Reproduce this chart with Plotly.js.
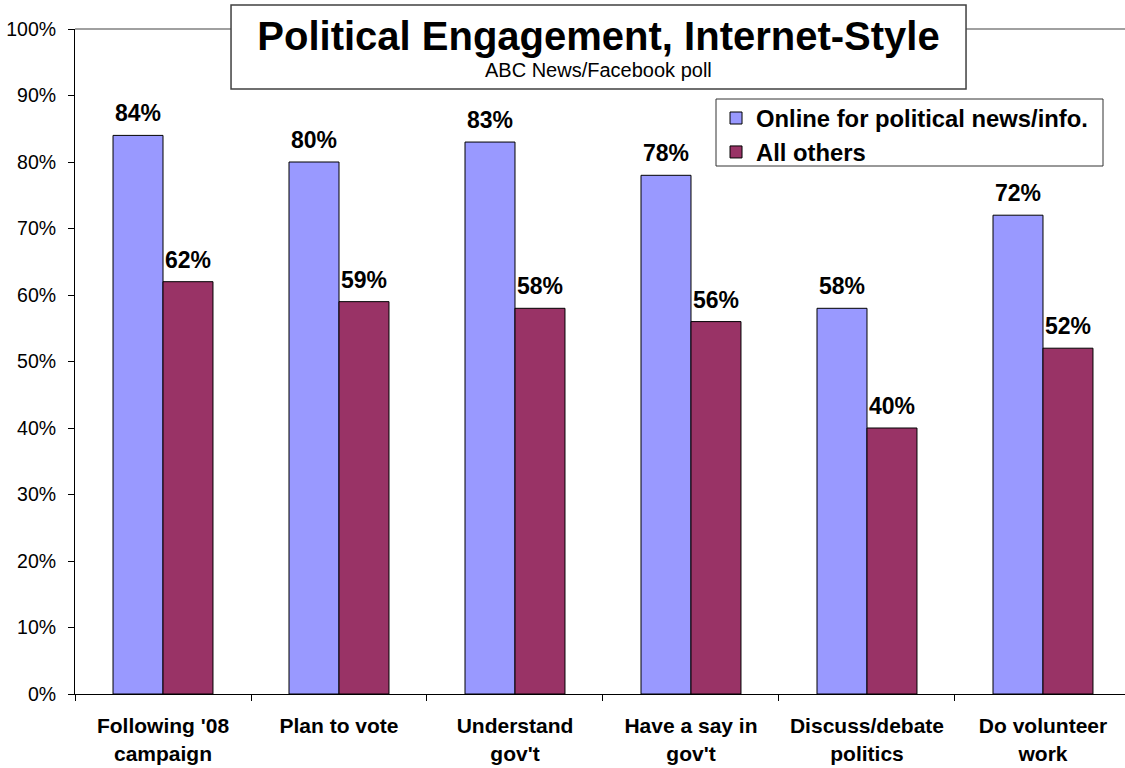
<!DOCTYPE html>
<html>
<head>
<meta charset="utf-8">
<script src="https://cdn.plot.ly/plotly-3.0.1.min.js"></script>
<style>
  html, body { margin: 0; padding: 0; background: #ffffff; }
  #chart { width: 1125px; height: 768px; }
</style>
</head>
<body>
<div id="chart"></div>
<script>
const categories = ["Following '08<br>campaign", "Plan to vote", "Understand<br>gov't", "Have a say in<br>gov't", "Discuss/debate<br>politics", "Do volunteer<br>work"];
const seriesNames = ["Online for political news/info.", "All others"];
const onlineValues = [84, 80, 83, 78, 58, 72];
const otherValues = [62, 59, 58, 56, 40, 52];
const yTickValues = [0, 10, 20, 30, 40, 50, 60, 70, 80, 90, 100];
const yTickLabels = ["0%", "10%", "20%", "30%", "40%", "50%", "60%", "70%", "80%", "90%", "100%"];
const chartTitle = "Political Engagement, Internet-Style";
const chartSubtitle = "ABC News/Facebook poll";

const FONT = "'Liberation Sans', Arial, Helvetica, sans-serif";

const traces = [
  {
    type: 'bar', name: seriesNames[0], x: categories, y: onlineValues,
    marker: { color: '#9999FF', line: { color: '#000000', width: 1 } },
    hoverinfo: 'none'
  },
  {
    type: 'bar', name: seriesNames[1], x: categories, y: otherValues,
    marker: { color: '#993366', line: { color: '#000000', width: 1 } },
    hoverinfo: 'none'
  }
];

const annotations = [];
categories.forEach((c, i) => {
  annotations.push({ x: c, y: onlineValues[i], xref: 'x', yref: 'y', text: '<b>' + onlineValues[i] + '%</b>',
    showarrow: false, xshift: -25, yshift: 22, yanchor: 'middle', font: { family: FONT, size: 23, color: '#000' } });
  annotations.push({ x: c, y: otherValues[i], xref: 'x', yref: 'y', text: '<b>' + otherValues[i] + '%</b>',
    showarrow: false, xshift: 25, yshift: 22, yanchor: 'middle', font: { family: FONT, size: 23, color: '#000' } });
});
annotations.push({ x: 0.4986, y: 0.9383, xref: 'paper', yref: 'paper', text: chartSubtitle, showarrow: false,
  xanchor: 'center', yanchor: 'middle', font: { family: FONT, size: 20, color: '#000' } });

const layout = {
  width: 1125, height: 768,
  margin: { l: 75, r: 0, t: 29, b: 74, pad: 0 },
  paper_bgcolor: '#ffffff', plot_bgcolor: '#ffffff',
  font: { family: FONT, color: '#000' },
  title: { text: '<b>' + chartTitle + '</b>', font: { family: FONT, size: 40, color: '#000' },
    xref: 'paper', x: 0.4986, xanchor: 'center', yref: 'container', y: 1 - 36 / 768, yanchor: 'middle' },
  barmode: 'group', bargap: 0.432, bargroupgap: 0,
  showlegend: true,
  legend: {
    x: 0.6105, y: 0.8992, xanchor: 'left', yanchor: 'top',
    bgcolor: 'rgba(0,0,0,0)', borderwidth: 0,
    font: { family: FONT, size: 23.8, color: '#000', weight: 'bold' },
    traceorder: 'normal'
  },
  xaxis: {
    type: 'category', range: [-0.5, 5.466], fixedrange: true,
    showline: true, linecolor: '#000', linewidth: 1,
    ticks: 'outside', tickson: 'boundaries', ticklen: 6, tickcolor: '#000', tickwidth: 1,
    tickfont: { family: FONT, size: 21, color: '#000', weight: 'bold' },
    ticklabelstandoff: 13,
    showgrid: false, zeroline: false
  },
  yaxis: {
    range: [0, 100], fixedrange: true,
    tickvals: yTickValues, ticktext: yTickLabels,
    showline: true, linecolor: '#000', linewidth: 1,
    ticks: 'outside', ticklen: 6, tickcolor: '#000', tickwidth: 1,
    tickfont: { family: FONT, size: 19.5, color: '#000' },
    ticklabelstandoff: 8,
    showgrid: false, zeroline: false
  },
  shapes: [
    { type: 'line', xref: 'paper', yref: 'paper', x0: 0, x1: 1, y0: 1, y1: 1, line: { color: '#808080', width: 1.5 }, layer: 'above' },
    { type: 'rect', xref: 'paper', yref: 'paper', x0: 0.1486, x1: 0.8486, y0: 0.9098, y1: 1.0361,
      fillcolor: '#ffffff', line: { color: '#404040', width: 1.5 }, layer: 'above' },
    { type: 'rect', xref: 'paper', yref: 'paper', x0: (716 - 75) / 1050, x1: (1103 - 75) / 1050,
      y0: (694 - 166) / 665, y1: (694 - 99) / 665,
      fillcolor: '#ffffff', line: { color: '#333333', width: 1 }, layer: 'below' }
  ],
  annotations: annotations
};

Plotly.newPlot('chart', traces, layout, { displayModeBar: false, staticPlot: true });
</script>
</body>
</html>
